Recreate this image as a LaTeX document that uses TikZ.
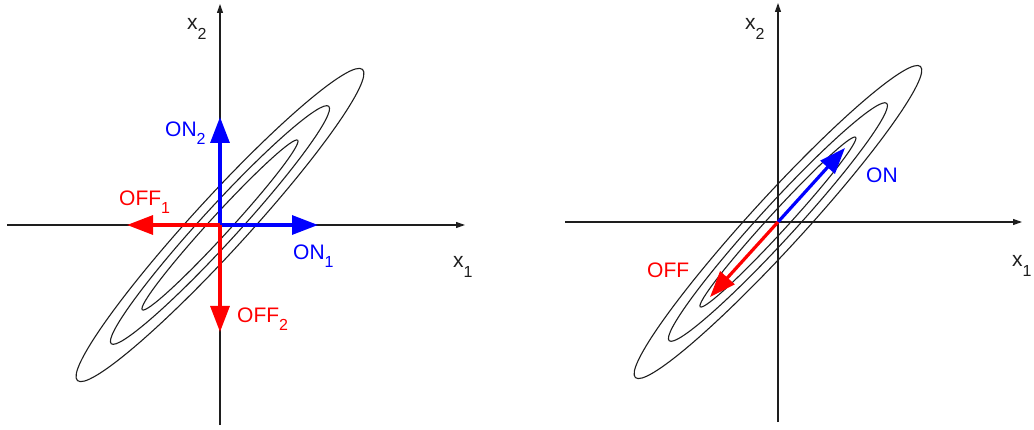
\documentclass[tikz,border=0pt]{standalone}
\usepackage{fontspec}
\setmainfont{Liberation Sans}
\usetikzlibrary{arrows.meta}
\definecolor{onblue}{RGB}{0,0,255}
\definecolor{offred}{RGB}{255,0,0}
\definecolor{ink}{RGB}{30,30,30}
\newcommand\lsub[2][8pt]{\raisebox{-#1}{\fontsize{16}{16}\selectfont #2}}
\begin{document}
\begin{tikzpicture}[x=1pt,y=-1pt,
 axis/.style={draw=ink,line width=1.1pt,-{Triangle[length=9pt,width=6pt]}},
 contour/.style={draw=ink,line width=1.1pt},
 onarrow/.style={draw=onblue,line width=3.2pt,-{Triangle[length=26pt,width=19pt]}},
 offarrow/.style={draw=offred,line width=3.2pt,-{Triangle[length=26pt,width=19pt]}},
 lbl/.style={inner sep=0pt,anchor=base west,font=\fontsize{21}{25}\selectfont},
]
\useasboundingbox (0,0) rectangle (1034,430);

% ---------- left panel ----------
\coordinate (O1) at (220,225);
\coordinate (h1s) at (7,225);
\coordinate (h1e) at (465,225);
\coordinate (v1s) at (220,425);
\coordinate (v1e) at (220,4);
\draw[axis] (h1s) -- (h1e);
\draw[axis] (v1s) -- (v1e);
\foreach \a/\b in {211/27,161/18,115/10}
  \draw[contour, rotate around={47.5:(O1)}] (O1) ellipse [x radius=\a pt, y radius=\b pt];

\coordinate (on1) at (318,225);
\coordinate (on2) at (220,117);
\coordinate (off1) at (127,225);
\coordinate (off2) at (220,332);
\draw[onarrow] (O1) -- (on1);
\draw[onarrow] (O1) -- (on2);
\draw[offarrow] (O1) -- (off1);
\draw[offarrow] (O1) -- (off2);

\node[lbl,text=onblue] (lon2) at (165,137) {ON\lsub{2}};
\node[lbl,text=offred] (loff1) at (119,206) {OFF\lsub{1}};
\node[lbl,text=onblue] (lon1) at (293,260) {ON\lsub{1}};
\node[lbl,text=offred] (loff2) at (237,323) {OFF\lsub{2}};
\node[lbl,text=ink] (lx2a) at (187,30) {x\lsub[10pt]{2}};
\node[lbl,text=ink] (lx1a) at (453,268) {x\lsub[10pt]{1}};

% ---------- right panel ----------
\coordinate (O2) at (778,222);
\coordinate (h2s) at (565,222);
\coordinate (h2e) at (1022,222);
\coordinate (v2s) at (778,422);
\coordinate (v2e) at (778,3);
\draw[axis] (h2s) -- (h2e);
\draw[axis] (v2s) -- (v2e);
\foreach \a/\b in {211/26,161/17.5,115/9.5}
  \draw[contour, rotate around={47.5:(O2)}] (O2) ellipse [x radius=\a pt, y radius=\b pt];

\coordinate (onr) at (845,148);
\coordinate (offr) at (710,297);
\draw[onarrow] (O2) -- (onr);
\draw[offarrow] (O2) -- (offr);

\node[lbl,text=onblue] (lon) at (866,183) {ON};
\node[lbl,text=offred] (loff) at (647,278) {OFF};
\node[lbl,text=ink] (lx2b) at (745,30) {x\lsub[10pt]{2}};
\node[lbl,text=ink] (lx1b) at (1012,267) {x\lsub[10pt]{1}};
\end{tikzpicture}
\end{document}
